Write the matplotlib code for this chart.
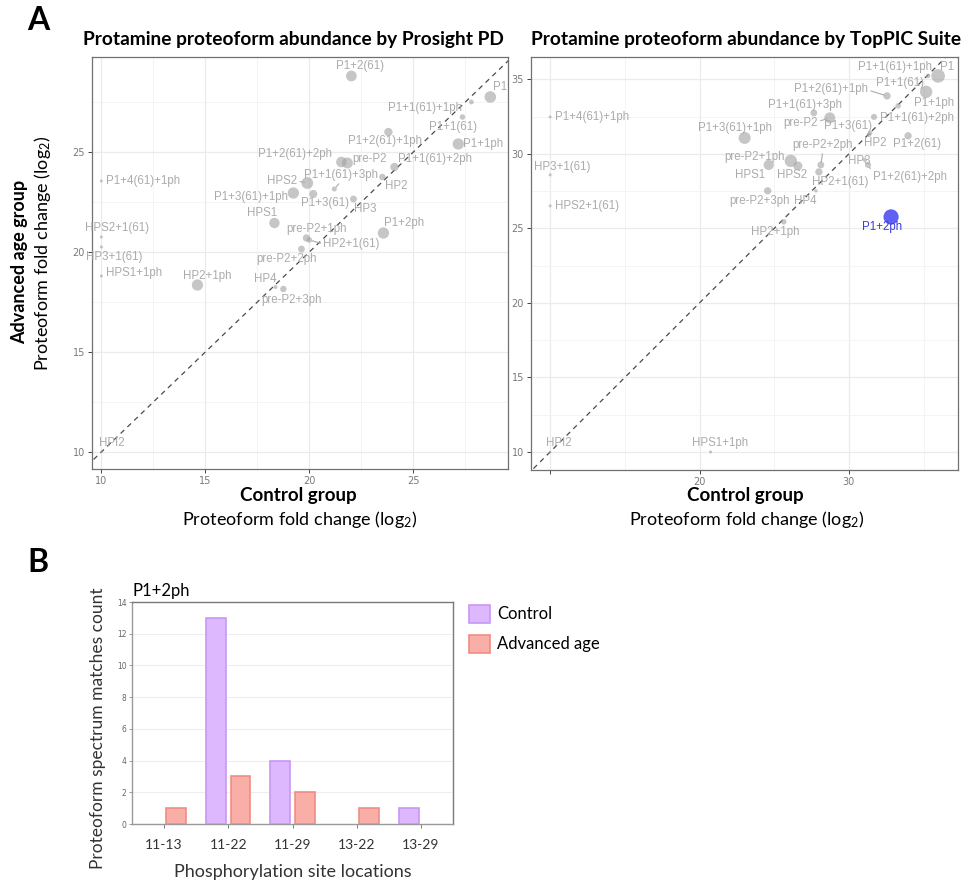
"""
Protamine proteoform abundance (Prosight PD vs TopPIC) and P1+2ph
phosphorylation site counts.
"""

import numpy as np
import matplotlib.pyplot as plt

plt.rcParams['mathtext.fontset'] = 'custom'
plt.rcParams['mathtext.rm'] = 'Lato'
plt.rcParams['mathtext.it'] = 'Lato:italic'
plt.rcParams['mathtext.bf'] = 'Lato:bold'

# --- Data ---------------------------------------------------------------
# Panel A, left: Prosight PD (log2 fold change control / advanced age)
pd_labels = ['P1+2(61)', 'P1', 'P1+1(61)+1ph', 'P1+1(61)', 'P1+2(61)+1ph',
             'P1+1ph', 'P1+2(61)+2ph', 'pre-P2', 'P1+1(61)+2ph', 'HP2',
             'P1+1(61)+3ph', 'HPS2', 'P1+3(61)+1ph', 'P1+3(61)', 'HP3',
             'HPS1', 'pre-P2+1ph', 'HP2+1(61)', 'pre-P2+2ph', 'P1+2ph',
             'HP2+1ph', 'HP4', 'pre-P2+3ph', 'HPS1+1ph', 'HP3+1(61)',
             'HPS2+1(61)', 'P1+4(61)+1ph', 'HPI2']
pd_control = [22.02, 28.70, 27.79, 27.36, 23.80, 27.16, 21.54, 21.83, 24.09,
              23.51, 21.20, 19.90, 19.23, 20.19, 22.12, 18.32, 19.86, 20.00,
              19.62, 23.56, 14.62, 18.37, 18.75, 10.0, 10.0, 10.0, 10.0, 10.0]
pd_advanced = [28.80, 27.75, 27.50, 26.75, 26.00, 25.40, 24.50, 24.45, 24.25,
               23.75, 23.15, 23.45, 22.95, 22.90, 22.65, 21.45, 20.70, 20.60,
               20.15, 20.95, 18.35, 18.25, 18.15, 18.80, 20.25, 20.75, 23.55,
               10.0]
pd_abund = [0.50, 0.58, 0.10, 0.13, 0.30, 0.55, 0.48, 0.52, 0.30, 0.18,
            0.11, 0.60, 0.55, 0.28, 0.20, 0.46, 0.23, 0.13, 0.20, 0.55,
            0.55, 0.07, 0.18, 0.04, 0.04, 0.04, 0.04, 0.03]

# Panel A, right: TopPIC Suite
tp_labels = ['P1', 'P1+1(61)+1ph', 'P1+1(61)', 'P1+1ph', 'P1+2(61)+1ph',
             'P1+1(61)+2ph', 'P1+1(61)+3ph', 'pre-P2', 'P1+3(61)', 'HP2',
             'P1+2(61)', 'HP3', 'P1+2(61)+2ph', 'pre-P2+2ph', 'HP2+1(61)',
             'HPS1', 'pre-P2+1ph', 'HPS2', 'pre-P2+3ph', 'HP4', 'HP2+1ph',
             'P1+2ph', 'P1+3(61)+1ph', 'P1+4(61)+1ph', 'HP3+1(61)',
             'HPS2+1(61)', 'HPI2', 'HPS1+1ph']
tp_control = [35.97, 35.30, 33.29, 35.17, 32.55, 31.68, 27.65, 28.72, 31.41,
              31.34, 33.96, 31.07, 31.28, 28.12, 27.99, 24.63, 26.11, 26.58,
              24.56, 27.79, 25.64, 32.82, 23.02, 10.0, 10.0, 10.0, 10.0, 20.74]
tp_advanced = [35.23, 35.23, 33.22, 34.16, 33.89, 32.48, 32.75, 32.42, 31.41,
               31.28, 31.21, 29.60, 29.26, 29.26, 28.79, 29.26, 29.53, 29.19,
               27.52, 27.52, 25.44, 25.77, 31.07, 32.48, 28.59, 26.51, 10.0,
               10.0]
tp_abund = [0.80, 0.09, 0.13, 0.66, 0.23, 0.16, 0.20, 0.52, 0.09, 0.09,
            0.23, 0.08, 0.16, 0.20, 0.23, 0.45, 0.66, 0.35, 0.23, 0.05,
            0.13, 1.00, 0.62, 0.04, 0.04, 0.04, 0.03, 0.04]
tp_highlight = 'P1+2ph'

# Panel B: PSM counts for P1+2ph by phosphorylation site pair
sites = ['11-13', '11-22', '11-29', '13-22', '13-29']
psm_control = [0, 13, 4, 0, 1]
psm_advanced = [1, 3, 2, 1, 0]

# --- Label layout (pixel offsets, alignment, leader-line anchor) ----------
pd_layout = {
    'P1+2(61)': (9, 10, 'center', None),
    'P1': (3, 10, 'left', None),
    'P1+1(61)+1ph': (-46, -6, 'center', None),
    'P1+1(61)': (-9, -10, 'center', None),
    'P1+2(61)+1ph': (-3, -9, 'center', None),
    'P1+1ph': (5, 0, 'left', None),
    'P1+2(61)+2ph': (-9, 8, 'right', None),
    'pre-P2': (5, 4, 'left', None),
    'P1+1(61)+2ph': (4, 8, 'left', None),
    'HP2': (3, -9, 'left', None),
    'P1+1(61)+3ph': (7, 14, 'center', (0.5, 0.0)),
    'HPS2': (-10, 2, 'right', (1.0, 0.5)),
    'P1+3(61)+1ph': (-5, -4, 'right', None),
    'P1+3(61)': (12, -9, 'center', None),
    'HP3': (12, -10, 'center', None),
    'HPS1': (-12, 10, 'center', None),
    'pre-P2+1ph': (10, 9, 'center', None),
    'HP2+1(61)': (14, -4, 'left', (0.0, 0.5)),
    'pre-P2+2ph': (-15, -10, 'center', None),
    'P1+2ph': (1, 10, 'left', None),
    'HP2+1ph': (10, 9, 'center', None),
    'HP4': (-10, 8, 'center', None),
    'pre-P2+3ph': (8, -11, 'center', None),
    'HPS1+1ph': (5, 3, 'left', None),
    'HP3+1(61)': (13, -10, 'center', None),
    'HPS2+1(61)': (16, 9, 'center', None),
    'P1+4(61)+1ph': (5, 0, 'left', None),
    'HPI2': (10, 9, 'center', None),
}
tp_layout = {
    'P1': (2, 9, 'left', None),
    'P1+1(61)+1ph': (-33, 9, 'center', None),
    'P1+1(61)': (2, 23, 'center', None),
    'P1+1ph': (8, -11, 'center', None),
    'P1+2(61)+1ph': (-19, 7, 'right', (1.0, 0.4)),
    'P1+1(61)+2ph': (6, -1, 'left', None),
    'P1+1(61)+3ph': (-9, 8, 'center', None),
    'pre-P2': (-12, -5, 'right', (1.0, 0.6)),
    'P1+3(61)': (-22, 7, 'center', None),
    'HP2': (6, -8, 'center', None),
    'P1+2(61)': (9, -8, 'center', None),
    'HP3': (-6, -1, 'center', None),
    'P1+2(61)+2ph': (5, -12, 'left', (0.0, 0.8)),
    'pre-P2+2ph': (2, 20, 'center', (0.5, 0.0)),
    'HP2+1(61)': (21, -10, 'center', None),
    'HPS1': (-19, -10, 'center', None),
    'pre-P2+1ph': (-36, 4, 'center', None),
    'HPS2': (-6, -9, 'center', None),
    'pre-P2+3ph': (-8, -10, 'center', None),
    'HP4': (-11, -10, 'center', None),
    'HP2+1ph': (-9, -10, 'center', None),
    'P1+2ph': (-9, -10, 'center', None),
    'P1+3(61)+1ph': (-10, 10, 'center', None),
    'P1+4(61)+1ph': (5, 0, 'left', None),
    'HP3+1(61)': (12, 8, 'center', None),
    'HPS2+1(61)': (5, 0, 'left', None),
    'HPI2': (9, 9, 'center', None),
    'HPS1+1ph': (9, 9, 'center', None),
}

W, H = 964, 880
GREY_PT = '#A0A0A0'
GREY_TXT = '#ABABAB'
BLUE = '#5757F5'


def fx(px):
    return px / W


def fy(py):
    return 1 - py / H


def scatter_panel(ax, xs, ys, abund, labels, layout, highlight=None):
    xs = np.asarray(xs)
    ys = np.asarray(ys)
    sizes = 120 * np.asarray(abund)
    hi = np.array([lab == highlight for lab in labels])
    ax.plot([0, 40], [0, 40], color='#4a4a4a', lw=0.9, ls=(0, (4, 3.5)),
            zorder=1)
    ax.scatter(xs[~hi], ys[~hi], s=sizes[~hi], color=GREY_PT, alpha=0.6,
               edgecolors='none', zorder=2)
    if hi.any():
        ax.scatter(xs[hi], ys[hi], s=sizes[hi], color=BLUE, alpha=0.95,
                   edgecolors='none', zorder=3)
    for lab, x, y, h in zip(labels, xs, ys, hi):
        dx, dy, ha, rel = layout[lab]
        col = '#3a3ae0' if h else GREY_TXT
        arrow = None
        if rel is not None:
            arrow = dict(arrowstyle='-', color=GREY_TXT, lw=0.8,
                         shrinkA=0, shrinkB=2, relpos=rel)
        ax.annotate(lab, (x, y), xytext=(dx, dy), textcoords='offset pixels',
                    ha=ha, va='center', fontsize=8.3, color=col,
                    family='Liberation Sans', arrowprops=arrow, zorder=4)
    ax.grid(True, which='major', color='#EBEBEB', lw=0.9, zorder=0)
    ax.grid(True, which='minor', color='#F3F3F3', lw=0.6, zorder=0)
    ax.set_axisbelow(True)
    for sp in ax.spines.values():
        sp.set_color('#707070')
        sp.set_linewidth(0.9)
    ax.tick_params(which='major', length=3, width=0.7, color='#444444',
                   labelsize=7, labelcolor='#7a7a7a', pad=2)
    ax.tick_params(which='minor', length=0)


fig = plt.figure(figsize=(W / 100, H / 100), dpi=100)

# --- Panel A left ---------------------------------------------------------
ax1 = fig.add_axes([fx(92), fy(469), fx(508) - fx(92), fy(57) - fy(469)])
scatter_panel(ax1, pd_control, pd_advanced, pd_abund, pd_labels, pd_layout)
ax1.set_xlim(9.55, 29.55)
ax1.set_ylim(9.15, 29.75)
ax1.set_xticks([10, 15, 20, 25])
ax1.set_yticks([10, 15, 20, 25])
ax1.set_xticks([12.5, 17.5, 22.5, 27.5], minor=True)
ax1.set_yticks([12.5, 17.5, 22.5, 27.5], minor=True)

# --- Panel A right --------------------------------------------------------
ax2 = fig.add_axes([fx(531), fy(470), fx(958) - fx(531), fy(57) - fy(470)])
scatter_panel(ax2, tp_control, tp_advanced, tp_abund, tp_labels, tp_layout,
              highlight=tp_highlight)
ax2.set_xlim(8.72, 37.3)
ax2.set_ylim(8.79, 36.5)
ax2.set_xticks([10, 20, 30])
ax2.set_xticklabels(['', '20', '30'])
ax2.set_yticks([10, 15, 20, 25, 30, 35])
ax2.set_xticks([15, 25, 35], minor=True)
ax2.set_yticks([12.5, 17.5, 22.5, 27.5, 32.5], minor=True)

# --- Panel A texts --------------------------------------------------------
fig.text(fx(38), fy(20), 'A', fontsize=23, fontweight='bold', family='Lato',
         ha='center', va='center')
fig.text(fx(293), fy(40), 'Protamine proteoform abundance by Prosight PD',
         fontsize=13.8, fontweight='bold', family='Lato', ha='center',
         va='center')
fig.text(fx(746), fy(40), 'Protamine proteoform abundance by TopPIC Suite',
         fontsize=13.8, fontweight='bold', family='Lato', ha='center',
         va='center')
fig.text(fx(20), fy(262), 'Advanced age group', fontsize=13,
         fontweight='bold', family='Lato', rotation=90, ha='center',
         va='center')
fig.text(fx(43), fy(253), 'Proteoform fold change (log$_2$)', fontsize=13,
         family='Lato', rotation=90, ha='center', va='center')
for cx in (298, 745):
    fig.text(fx(cx), fy(495), 'Control group', fontsize=13.5,
             fontweight='bold', family='Lato', ha='center', va='center')
    fig.text(fx(cx + 2), fy(519), 'Proteoform fold change (log$_2$)',
             fontsize=13, family='Lato', ha='center', va='center')

# --- Panel B --------------------------------------------------------------
ax3 = fig.add_axes([fx(132), fy(824), fx(453) - fx(132), fy(602) - fy(824)])
pos = np.arange(len(sites))
ctrl = np.asarray(psm_control)
adv = np.asarray(psm_advanced)
ax3.bar(pos[ctrl > 0] - 0.19, ctrl[ctrl > 0], width=0.31, color='#DDB8FF',
        edgecolor='#C797F4', linewidth=1.2, label='Control', zorder=3)
ax3.bar(pos[adv > 0] + 0.19, adv[adv > 0], width=0.31, color='#F9AEA7',
        edgecolor='#F08D84', linewidth=1.2, label='Advanced age', zorder=3)
ax3.set_xlim(-0.5, len(sites) - 0.5)
ax3.set_ylim(0, 14)
ax3.set_yticks(range(0, 15, 2))
ax3.set_xticks(pos)
ax3.set_xticklabels(sites, fontsize=10, family='Lato', color='#333333')
ax3.tick_params(axis='y', labelsize=5.5, labelcolor='#666666', length=2,
                width=0.6, color='#888888', pad=2)
ax3.tick_params(axis='x', length=3, width=0.6, color='#666666', pad=8)
ax3.grid(True, axis='y', color='#EEEEEE', lw=0.8, zorder=0)
ax3.set_axisbelow(True)
for name, sp in ax3.spines.items():
    sp.set_color('#7a7a7a' if name in ('top', 'right') else '#999999')
    sp.set_linewidth(1.0)
ax3.set_xlabel('Phosphorylation site locations', fontsize=13,
               family='Lato', color='#333333', labelpad=9)
fig.text(fx(98), fy(728), 'Proteoform spectrum matches count', fontsize=12.5,
         family='Lato', color='#333333', rotation=90, ha='center',
         va='center')
fig.text(fx(133), fy(591), 'P1+2ph', fontsize=12, family='Lato',
         ha='left', va='center')
fig.text(fx(38), fy(562), 'B', fontsize=23, fontweight='bold', family='Lato',
         ha='center', va='center')
ax3.legend(loc='upper left', bbox_to_anchor=(fx(462), fy(598)),
           bbox_transform=fig.transFigure, frameon=False,
           prop={'family': 'Lato', 'size': 12}, handlelength=1.3,
           handleheight=1.3, labelspacing=0.7, handletextpad=0.4,
           borderaxespad=0)

fig.savefig('out.png', dpi=100)
plt.close(fig)
